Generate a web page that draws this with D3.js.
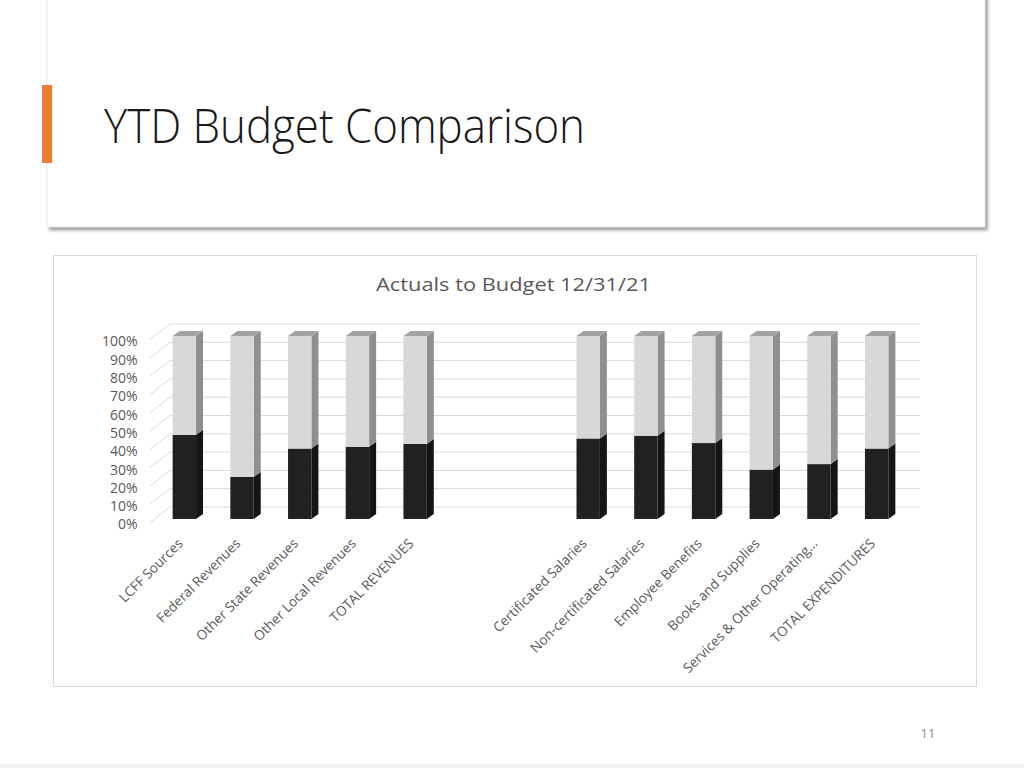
<!DOCTYPE html>
<html>
<head>
<meta charset="utf-8">
<script src="https://cdn.jsdelivr.net/npm/d3@7"></script>
<style>
  html, body { margin: 0; padding: 0; background: #fff; }
  svg { display: block; }
</style>
</head>
<body>
<svg id="slide" width="1024" height="768"></svg>
<script>
// ---------------- data ----------------
const slideTitle = "YTD Budget Comparison";
const chartTitle = "Actuals to Budget 12/31/21";
const pageNumber = "11";
const categories = [
  "LCFF Sources", "Federal Revenues", "Other State Revenues", "Other Local Revenues", "TOTAL REVENUES",
  "", "",
  "Certificated Salaries", "Non-certificated Salaries", "Employee Benefits", "Books and Supplies",
  "Services & Other Operating…", "TOTAL EXPENDITURES"
];
// actual share of budget (%), blanks are empty gap categories
const actualPct = [46, 23, 38.5, 39.5, 41, null, null, 44, 45.5, 41.5, 27, 30, 38.5];
// remaining share of budget (%)
const remainingPct = [54, 77, 61.5, 60.5, 59, null, null, 56, 54.5, 58.5, 73, 70, 61.5];
const yTicks = [0, 0.1, 0.2, 0.3, 0.4, 0.5, 0.6, 0.7, 0.8, 0.9, 1.0];
const seriesKeys = ["actual", "remaining"];

// ---------------- layout ----------------
const svg = d3.select("#slide");
const defs = svg.append("defs");
const f = defs.append("filter").attr("id", "shadow").attr("x", "-5%").attr("y", "-5%").attr("width", "110%").attr("height", "115%");
f.append("feDropShadow").attr("dx", 2.5).attr("dy", 3).attr("stdDeviation", 1.6)
  .attr("flood-color", "#7f7f7f").attr("flood-opacity", 0.75);

// header card
svg.append("rect").attr("x", 47).attr("y", -10).attr("width", 938).attr("height", 237)
  .attr("fill", "#fff").attr("stroke", "#e6e6e6").attr("stroke-width", 0.8)
  .attr("filter", "url(#shadow)");
svg.append("rect").attr("x", 42).attr("y", 85).attr("width", 10).attr("height", 78).attr("fill", "#ED7D31");
svg.append("text").attr("x", 104).attr("y", 143)
  .attr("font-family", "Open Sans, sans-serif").attr("font-weight", 300).attr("font-size", 47)
  .attr("fill", "#1a1a1a").attr("textLength", 481).attr("lengthAdjust", "spacingAndGlyphs")
  .text(slideTitle);

// chart frame
svg.append("rect").attr("x", 53.5).attr("y", 255.5).attr("width", 923).attr("height", 431)
  .attr("fill", "#fff").attr("stroke", "#d9d9d9").attr("stroke-width", 1);
svg.append("text").attr("x", 513.5).attr("y", 291)
  .attr("text-anchor", "middle")
  .attr("font-family", "Open Sans, sans-serif").attr("font-size", 18.5)
  .attr("fill", "#595959").attr("textLength", 275).attr("lengthAdjust", "spacingAndGlyphs")
  .text(chartTitle);

// page number
svg.append("text").attr("x", 928).attr("y", 738).attr("text-anchor", "middle")
  .attr("font-family", "Open Sans, sans-serif").attr("font-size", 13).attr("fill", "#8c8c8c")
  .text(pageNumber);
svg.append("rect").attr("x", 0).attr("y", 764).attr("width", 1024).attr("height", 4).attr("fill", "#f4f4f4");

// ---------------- scales ----------------
const depthWall = { dx: -20, dy: 15.5 };     // back wall -> front plane
const barOffset = { dx: -14.5, dy: 12 };     // back wall -> bar front face
const barDepth = { dx: 7, dy: -5 };          // bar 3D depth
const barW = 23.4;

const x = d3.scaleBand().domain(d3.range(categories.length)).range([170, 920]).paddingInner(0).paddingOuter(0);
const yBack = d3.scaleLinear().domain([0, 1]).range([507, 324]);
const yFront = d3.scaleLinear().domain([0, 1]).range([507 + depthWall.dy, 324 + depthWall.dy]);
const yBar = d3.scaleLinear().domain([0, 100]).range([507 + barOffset.dy, 324 + barOffset.dy]);

// gridlines on back wall + diagonal on left side wall
const grid = svg.append("g");
yTicks.forEach(t => {
  grid.append("line").attr("x1", 170).attr("x2", 920)
    .attr("y1", yBack(t)).attr("y2", yBack(t))
    .attr("stroke", "#d9d9d9").attr("stroke-width", 1);
  grid.append("line").attr("x1", 170 + depthWall.dx).attr("x2", 170)
    .attr("y1", yBack(t) + depthWall.dy).attr("y2", yBack(t))
    .attr("stroke", "#d9d9d9").attr("stroke-width", 1);
});

// y axis labels (front plane)
const yAxis = d3.axisLeft(yFront).tickValues(yTicks).tickSize(0).tickPadding(0)
  .tickFormat(d3.format(".0%"));
const ya = svg.append("g").attr("transform", "translate(137.5,2)").call(yAxis);
ya.select(".domain").remove();
ya.selectAll("text").attr("font-family", "Open Sans, sans-serif").attr("font-size", 14).attr("fill", "#595959");

// ---------------- bars ----------------
const table = categories.map((c, i) => ({ idx: i, actual: actualPct[i] || 0, remaining: remainingPct[i] || 0, empty: actualPct[i] == null }));
const stacked = d3.stack().keys(seriesKeys)(table);
const colors = {
  actual: { front: "#212121", side: "#151515", top: "#2e2e2e" },
  remaining: { front: "#d8d8d8", side: "#8f8f8f", top: "#a3a3a3" }
};
const barsG = svg.append("g");
stacked.forEach((layer, li) => {
  const key = layer.key;
  const isTop = li === stacked.length - 1;
  const g = barsG.append("g");
  layer.forEach((d, i) => {
    if (table[i].empty) return;
    const xl = x(i) + x.bandwidth() / 2 + barOffset.dx - barW / 2;
    const xr = xl + barW;
    const yt = yBar(d[1]);
    const yb = yBar(d[0]);
    g.append("path").attr("d", `M${xr},${yt}L${xr + barDepth.dx},${yt + barDepth.dy}L${xr + barDepth.dx},${yb + barDepth.dy}L${xr},${yb}Z`)
      .attr("fill", colors[key].side);
    g.append("rect").attr("x", xl).attr("y", yt).attr("width", barW).attr("height", yb - yt)
      .attr("fill", colors[key].front);
    if (isTop) {
      g.append("path").attr("d", `M${xl},${yt}L${xl + barDepth.dx},${yt + barDepth.dy}L${xr + barDepth.dx},${yt + barDepth.dy}L${xr},${yt}Z`)
        .attr("fill", colors[key].top);
    }
  });
});

// ---------------- x axis labels ----------------
const xFront = d3.scaleBand().domain(d3.range(categories.length))
  .range([170 + barOffset.dx - 4, 920 + barOffset.dx - 4]);
const xAxis = d3.axisBottom(xFront).tickSize(0).tickPadding(0).tickFormat(i => categories[i]);
const xa = svg.append("g").attr("transform", "translate(0,541)").call(xAxis);
xa.select(".domain").remove();
xa.selectAll("text")
  .attr("font-family", "Open Sans, sans-serif").attr("font-size", 13.6).attr("fill", "#595959")
  .attr("text-anchor", "end").attr("y", 0).attr("dy", "0.35em")
  .attr("transform", "rotate(-45)");
</script>
</body>
</html>
